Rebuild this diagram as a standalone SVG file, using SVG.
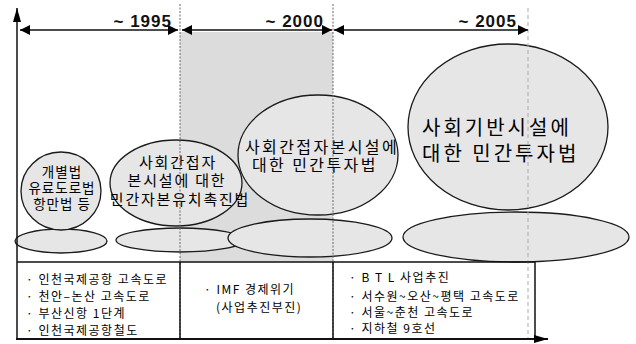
<svg xmlns="http://www.w3.org/2000/svg" width="636" height="344" viewBox="0 0 636 344">
<defs>
<marker id="ah" viewBox="0 0 10 10" refX="10" refY="5" markerWidth="10" markerHeight="10" markerUnits="userSpaceOnUse" orient="auto-start-reverse">
<path d="M0,0 L10,5 L0,10 z" fill="#000"/>
</marker>
<marker id="axh" viewBox="0 0 14 8" refX="14" refY="4" markerWidth="14" markerHeight="8" markerUnits="userSpaceOnUse" orient="auto">
<path d="M0,0 L14,4 L0,8 z" fill="#000"/>
</marker>
</defs>
<style>
.ell{fill:#e6e6e6;stroke:#1a1a1a;stroke-width:1.3}
.kr{font-family:"Noto Sans CJK KR","Noto Sans",sans-serif;fill:#000}
.yr{font-family:"Liberation Sans",Arial,sans-serif;font-weight:bold;font-size:17px;letter-spacing:1px;fill:#111;text-anchor:end}
.tb{font-family:"Noto Sans CJK KR","Noto Sans",sans-serif;font-size:12px;fill:#000;letter-spacing:1.5px}
.ln{stroke:#111;stroke-width:1.5;fill:none}
.dot{stroke:#666;stroke-width:1;stroke-dasharray:2,1.5}
.dash{stroke:#aaa;stroke-width:1;stroke-dasharray:4,3}
</style>
<rect width="636" height="344" fill="#fff"/>
<rect id="period-2000" x="180" y="32" width="153" height="230" fill="#dcdcdc"/>

<g id="node-law1">
<ellipse class="ell" cx="61" cy="241" rx="46" ry="12"/>
<ellipse class="ell" cx="61" cy="191" rx="40" ry="39"/>
<text class="kr" font-size="13.5" text-anchor="middle" letter-spacing="1"><tspan x="62" y="177">개별법</tspan><tspan x="62" y="193">유료도로법</tspan><tspan x="62" y="209">항만법 등</tspan></text>
</g>
<g id="node-law2">
<ellipse class="ell" cx="180" cy="240" rx="64" ry="12"/>
<ellipse class="ell" cx="176" cy="183" rx="66" ry="43"/>
<text class="kr" font-size="15" text-anchor="middle" letter-spacing="1.8"><tspan x="178" y="168">사회간접자</tspan><tspan x="177" y="186">본시설에 대한</tspan><tspan x="180" y="205">민간자본유치촉진법</tspan></text>
</g>
<g id="node-law3">
<ellipse class="ell" cx="310" cy="238" rx="82" ry="19"/>
<ellipse class="ell" cx="318" cy="155" rx="80" ry="60"/>
<text class="kr" font-size="16" letter-spacing="2.4"><tspan x="245" y="153">사회간접자본시설에</tspan><tspan x="252" y="171">대한 민간투자법</tspan></text>
</g>
<g id="node-law4">
<ellipse class="ell" cx="516" cy="237" rx="113" ry="25"/>
<ellipse class="ell" cx="508" cy="127" rx="100" ry="83"/>
<text class="kr" font-size="20" letter-spacing="3"><tspan x="422" y="135">사회기반시설에</tspan><tspan x="422" y="161">대한 민간투자법</tspan></text>
</g>

<g id="dividers">
<line class="dot" x1="180" y1="4" x2="180" y2="338"/>
<line class="dot" x1="333" y1="4" x2="333" y2="338"/>
<line class="dash" x1="528" y1="8" x2="528" y2="338"/>
</g>

<g id="table">
<line class="ln" x1="17" y1="262" x2="535" y2="262"/>
<line class="ln" x1="180" y1="262" x2="180" y2="338"/>
<line class="ln" x1="333" y1="262" x2="333" y2="338"/>
<line class="ln" x1="535" y1="262" x2="535" y2="338"/>
</g>
<g id="cell-1995">
<text class="tb"><tspan x="26" y="284">· 인천국제공항 고속도로</tspan><tspan x="26" y="301">· 천안–논산 고속도로</tspan><tspan x="26" y="318">· 부산신항 1단계</tspan><tspan x="26" y="335">· 인천국제공항철도</tspan></text>
</g>
<g id="cell-2000">
<text class="tb"><tspan x="204" y="294">· IMF 경제위기</tspan><tspan x="216" y="312">(사업추진부진)</tspan></text>
</g>
<g id="cell-2005">
<text class="tb"><tspan x="349" y="282">· B T L 사업추진</tspan><tspan x="349" y="301">· 서수원~오산~평택 고속도로</tspan><tspan x="349" y="317">· 서울~춘천 고속도로</tspan><tspan x="349" y="333">· 지하철 9호선</tspan></text>
</g>

<g id="year-labels">
<text class="yr" x="172" y="27">~ 1995</text>
<text class="yr" x="324" y="27">~ 2000</text>
<text class="yr" x="517" y="27">~ 2005</text>
</g>

<g id="connectors">
<line class="ln" x1="17" y1="339" x2="17" y2="8" marker-end="url(#axh)"/>
<line x1="16" y1="339" x2="548" y2="339" stroke="#111" stroke-width="2.2" marker-end="url(#axh)"/>
<line class="ln" x1="20" y1="30" x2="178" y2="30" marker-start="url(#ah)" marker-end="url(#ah)"/>
<line class="ln" x1="182" y1="30" x2="332" y2="30" marker-start="url(#ah)" marker-end="url(#ah)"/>
<line class="ln" x1="334" y1="30" x2="528" y2="30" marker-start="url(#ah)" marker-end="url(#ah)"/>
</g>
</svg>
